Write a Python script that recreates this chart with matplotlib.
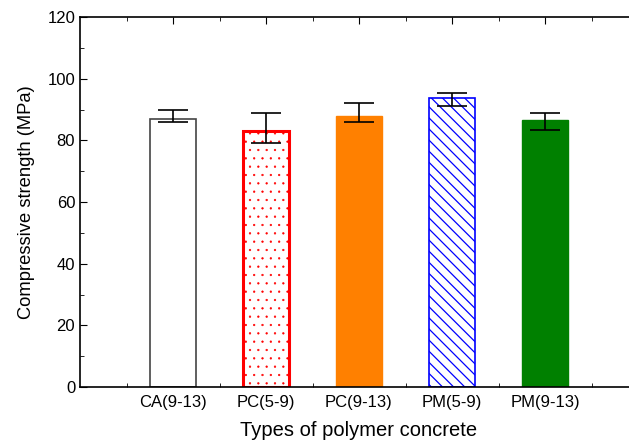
import matplotlib.pyplot as plt
import numpy as np

plt.rcParams['font.family'] = ['Liberation Sans', 'DejaVu Sans']

labels = ['CA(9-13)', 'PC(5-9)', 'PC(9-13)', 'PM(5-9)', 'PM(9-13)']
strength = [87.0, 83.0, 87.8, 93.6, 86.6]
err_low = [1.0, 4.0, 1.8, 2.6, 3.1]
err_high = [3.0, 5.9, 4.2, 1.8, 2.3]

faces = ['white', 'white', '#ff8000', 'white', '#008000']
edges = ['#444444', '#ff0000', '#ff8000', '#0000ff', '#008000']
hatch_cols = ['#444444', '#ff7878', '#ff8000', '#2020ff', '#008000']
hatch_lw = [1.0, 0.4, 1.0, 0.9, 1.0]
hatches = [None, '..', None, '\\\\\\', None]
widths = [1.2, 2.2, 1.0, 1.2, 1.0]

fig = plt.figure(figsize=(6.29, 4.43), dpi=100)
ax = fig.add_axes([80 / 629, 56 / 443, 558 / 629, 370 / 443])

x = np.arange(1, len(labels) + 1)
for i in range(len(labels)):
    plt.rcParams['hatch.color'] = hatch_cols[i]
    plt.rcParams['hatch.linewidth'] = hatch_lw[i]
    ax.bar(x[i], strength[i], width=0.5, color=faces[i], edgecolor=edges[i],
           hatch=hatches[i], linewidth=widths[i], zorder=2)
ax.errorbar(x, strength, yerr=[err_low, err_high], fmt='none', ecolor='black',
            elinewidth=1.2, capsize=10.5, capthick=1.2, zorder=3)

ax.set_xlim(0, 6)
ax.set_ylim(0, 120)
ax.set_xticks(x)
ax.set_xticklabels(labels)
ax.set_xticks(np.arange(0.5, 6, 0.5), minor=True)
ax.set_yticks(np.arange(0, 121, 20))
ax.set_yticks(np.arange(10, 120, 20), minor=True)

ax.tick_params(axis='both', which='both', direction='in', top=True, right=True,
               labelsize=12)
ax.tick_params(axis='x', which='major', bottom=False, length=4, pad=6)
ax.tick_params(which='major', length=5)
ax.tick_params(which='minor', length=3)
for s in ax.spines.values():
    s.set_linewidth(1.2)

ax.set_ylabel('Compressive strength (MPa)', fontsize=13.2, labelpad=9)
ax.set_xlabel('Types of polymer concrete', fontsize=14.5, labelpad=8)

fig.savefig('out.png', dpi=100)
